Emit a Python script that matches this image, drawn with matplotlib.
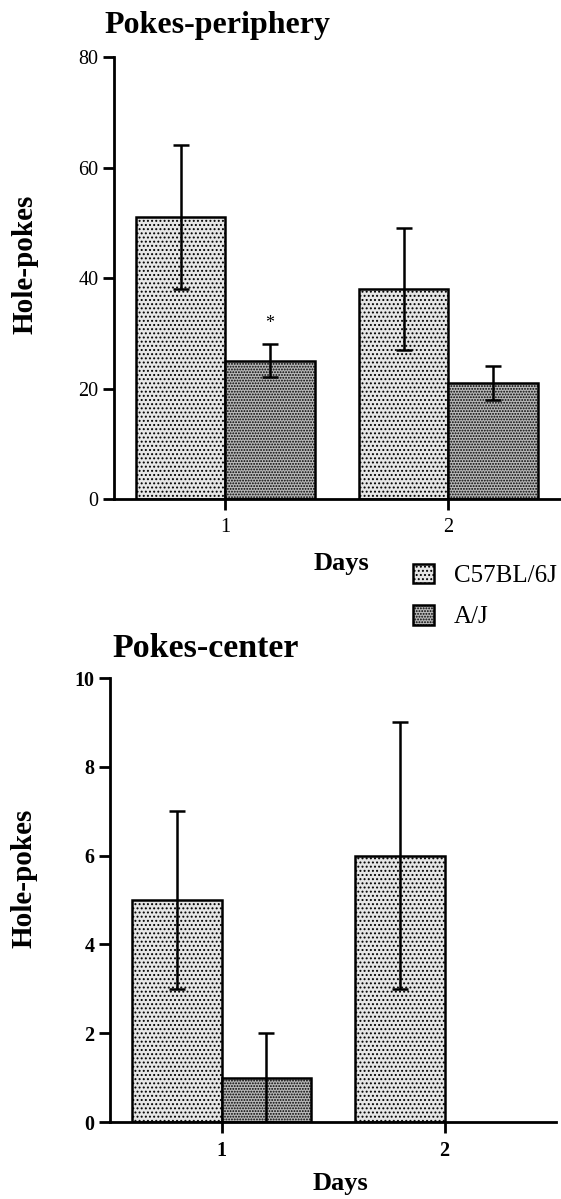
import matplotlib
matplotlib.use("Agg")
import numpy as np
import matplotlib.pyplot as plt
from matplotlib.patches import Patch

days = [1, 2]
strains = ["C57BL/6J", "A/J"]

periphery_c57 = [51, 38]
periphery_c57_err = [13, 11]
periphery_aj = [25, 21]
periphery_aj_err = [3, 3]
periphery_aj_sig = [True, False]

center_c57 = [5, 6]
center_c57_err = [2, 3]
center_aj = [1, 0]
center_aj_err = [1, 0]

plt.rcParams["font.family"] = ["Liberation Serif", "DejaVu Serif"]
plt.rcParams["hatch.linewidth"] = 0.9

BAR_W = 0.4
STYLE = {
    "C57BL/6J": dict(facecolor="#e6e6e6", hatch="...."),
    "A/J": dict(facecolor="#b8b8b8", hatch="......"),
}


def draw_bars(ax, values, errors, offset, strain):
    x = np.array(days) + offset
    vals = np.array(values, dtype=float)
    errs = np.array(errors, dtype=float)
    keep = vals > 0
    ax.bar(x[keep], vals[keep], BAR_W, edgecolor="black", linewidth=1.8,
           zorder=2, **STYLE[strain])
    show = errs > 0
    ax.errorbar(x[show], vals[show], yerr=errs[show], fmt="none",
                ecolor="black", elinewidth=1.8, capsize=6, capthick=1.8,
                zorder=3)
    return x


def style_axes(ax, ymax, step, bold_ticks):
    ax.set_xlim(0.5, 2.5)
    ax.set_ylim(0, ymax)
    ax.set_xticks(days)
    ax.set_yticks(np.arange(0, ymax + step, step))
    for side in ("top", "right"):
        ax.spines[side].set_visible(False)
    for side in ("left", "bottom"):
        ax.spines[side].set_linewidth(2)
    weight = "bold" if bold_ticks else "normal"
    ax.tick_params(axis="both", width=2, labelsize=14.5)
    ax.tick_params(axis="y", length=8, pad=3)
    ax.tick_params(axis="x", length=8, pad=6)
    for lab in ax.get_xticklabels() + ax.get_yticklabels():
        lab.set_fontweight(weight)
    ax.set_ylabel("Hole-pokes", fontsize=21, fontweight="bold")
    ax.set_xlabel("Days", fontsize=19, fontweight="bold")


fig = plt.figure(figsize=(5.61, 11.99), dpi=100)

ax1 = fig.add_axes([0.2032, 0.5838, 0.795, 0.3686])
draw_bars(ax1, periphery_c57, periphery_c57_err, -BAR_W / 2, "C57BL/6J")
xa = draw_bars(ax1, periphery_aj, periphery_aj_err, BAR_W / 2, "A/J")
# significance marker above the A/J bar
for x, v, e, s in zip(xa, periphery_aj, periphery_aj_err, periphery_aj_sig):
    if s:
        ax1.text(x, v + e + 2.2, "*", ha="center", va="bottom", fontsize=13)
style_axes(ax1, 80, 20, False)
ax1.yaxis.set_label_coords(-0.17, 0.53)
ax1.xaxis.set_label_coords(0.509, -0.12)
fig.text(0.187, 1 - 33 / 1199, "Pokes-periphery", fontsize=23,
         fontweight="bold", va="baseline", ha="left")

ax2 = fig.add_axes([0.1961, 0.0642, 0.795, 0.3703])
draw_bars(ax2, center_c57, center_c57_err, -BAR_W / 2, "C57BL/6J")
draw_bars(ax2, center_aj, center_aj_err, BAR_W / 2, "A/J")
style_axes(ax2, 10, 2, True)
ax2.yaxis.set_label_coords(-0.163, 0.55)
ax2.xaxis.set_label_coords(0.516, -0.113)
fig.text(0.201, 1 - 657 / 1199, "Pokes-center", fontsize=24.5,
         fontweight="bold", va="baseline", ha="left")

handles = [Patch(edgecolor="black", linewidth=1.8, label=s, **STYLE[s])
           for s in strains]
fig.legend(handles=handles, loc="upper left",
           bbox_to_anchor=(400 / 561, 1 - 551 / 1199), frameon=False,
           fontsize=18, handlelength=0.85, handleheight=0.85,
           handletextpad=0.8, labelspacing=0.7, borderpad=0)

fig.savefig("out.png", dpi=100)
